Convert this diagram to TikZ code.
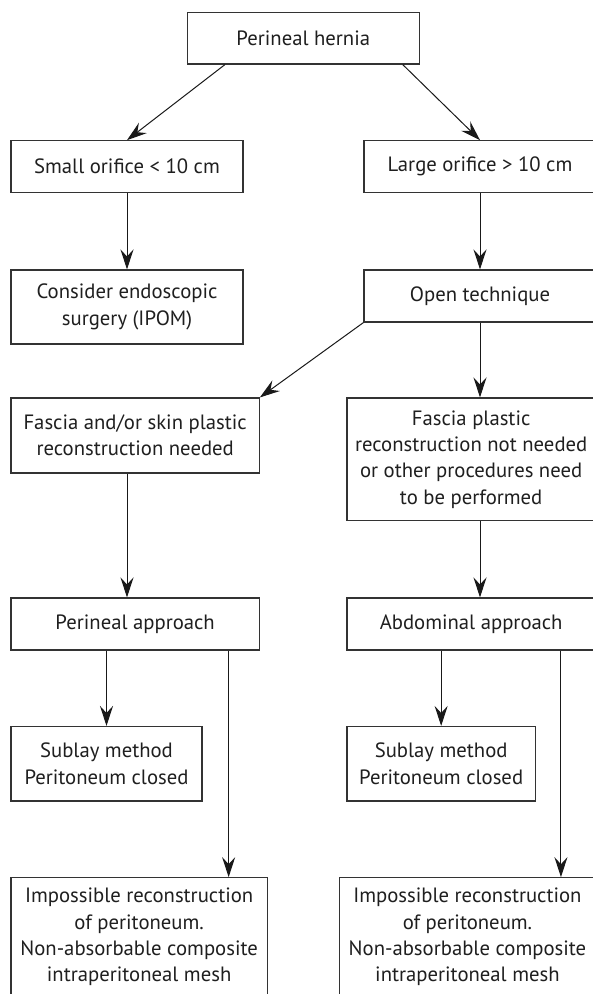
\documentclass[tikz,border=0pt]{standalone}
\usepackage{fontspec}
\setmainfont{PT Sans}
\usetikzlibrary{arrows.meta}
\begin{document}
\begin{tikzpicture}[x=1pt,y=-1pt,
  box/.style={draw=black!80, line width=1.1pt, fill=white, inner sep=0pt, align=center,
    font=\fontsize{20.7}{26.3}\selectfont, text=black!88},
  arr/.style={-{Stealth[length=20pt,width=13pt,inset=7pt]}, line width=1pt, draw=black!90}]
\useasboundingbox (0,0) rectangle (593,994);
\clip (0,0) rectangle (593,994);
% row 1
\node[box, minimum width=232pt, minimum height=51.7pt] (hern) at (303.3,38.15) {Perineal hernia};
% row 2
\node[box, minimum width=232pt, minimum height=52pt] (small) at (127,166.7) {Small orifice < 10 cm};
\node[box, minimum width=232pt, minimum height=52pt] (large) at (480,166.7) {Large orifice > 10 cm};
% row 3
\node[box, minimum width=232pt, minimum height=74pt] (consider) at (127,307) {Consider endoscopic\\surgery (IPOM)};
\node[box, minimum width=232pt, minimum height=52pt] (open) at (480,296) {Open technique};
% row 4
\node[box, minimum width=248.3pt, minimum height=75pt] (fascL) at (135.15,435.5) {Fascia and/or skin plastic\\reconstruction needed};
\node[box, minimum width=248.3pt, minimum height=122.7pt] (fascR) at (471.15,459.35) {Fascia plastic\\reconstruction not needed\\or other procedures need\\to be performed};
% row 5
\node[box, minimum width=248.3pt, minimum height=52pt] (perA) at (135.15,624) {Perineal approach};
\node[box, minimum width=248.3pt, minimum height=52pt] (abdA) at (471.15,624) {Abdominal approach};
% row 6
\node[box, minimum width=191pt, minimum height=74.5pt] (subL) at (106.5,763.75) {Sublay method\\Peritoneum closed};
\node[box, minimum width=188.3pt, minimum height=74.5pt] (subR) at (441.15,763.75) {Sublay method\\Peritoneum closed};
% row 7
\node[box, minimum width=256.3pt, minimum height=118.6pt] (impL) at (139.15,937) {Impossible reconstruction\\of peritoneum.\\Non-absorbable composite\\intraperitoneal mesh};
\node[box, minimum width=256.3pt, minimum height=118.6pt] (impR) at (467.45,937) {Impossible reconstruction\\of peritoneum.\\Non-absorbable composite\\intraperitoneal mesh};
% connectors
\draw[arr] ([xshift=-78.3pt]hern.south) -- (small.north);
\draw[arr] ([xshift=99.4pt]hern.south) -- (large.north);
\draw[arr] (small.south) -- (consider.north);
\draw[arr] (large.south) -- (open.north);
\draw[arr] (open.south west) -- (fascL.north east);
\draw[arr] (open.south) -- (open.south |- fascR.north);
\draw[arr] (consider.south |- fascL.south) -- (consider.south |- perA.north);
\draw[arr] (open.south |- fascR.south) -- (open.south |- abdA.north);
\draw[arr] (subL.north |- perA.south) -- (subL.north);
\draw[arr] ([xshift=89.5pt]impL.north |- perA.south) -- ([xshift=89.5pt]impL.north);
\draw[arr] (subR.north |- abdA.south) -- (subR.north);
\draw[arr] ([xshift=93.5pt]impR.north |- abdA.south) -- ([xshift=93.5pt]impR.north);
\end{tikzpicture}
\end{document}
